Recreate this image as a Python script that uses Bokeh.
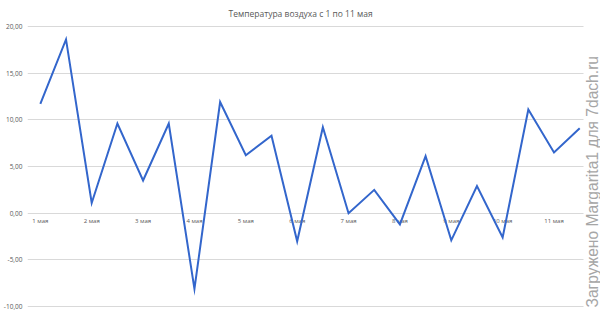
import math
from bokeh.plotting import figure
from bokeh.models import Range1d, FixedTicker, Label, BoxAnnotation, ColumnDataSource
from bokeh.core.properties import value
from bokeh.embed import file_html
from bokeh.resources import INLINE

# ---- data ----
temps = [11.7, 18.6, 1.1, 9.6, 3.5, 9.6, -8.1, 11.9, 6.2, 8.3, -3.0,
         9.2, 0.0, 2.5, -1.2, 6.1, -2.9, 2.9, -2.6, 11.1, 6.5, 9.1]
day_labels = ["1 мая", "2 мая", "3 мая", "4 мая", "5 мая", "6 мая",
              "7 мая", "8 мая", "9 мая", "10 мая", "11 мая"]
y_ticks = [-10, -5, 0, 5, 10, 15, 20]
y_tick_labels = ["-10,00", "-5,00", "0,00", "5,00", "10,00", "15,00", "20,00"]
title_text = "Температура воздуха с 1 по 11 мая"
watermark_text = "Загружено Margarita1 для 7dach.ru"

idx = list(range(len(temps)))
label_pos = [2 * i for i in range(len(day_labels))]

FONT = "Open Sans"
GREY = "#595959"

p = figure(width=600, height=315, output_backend="svg", toolbar_location=None,
           x_range=Range1d(-0.5, 21.81), y_range=Range1d(-10.3, 20.3),
           min_border_left=26, min_border_right=0, min_border_top=22,
           min_border_bottom=6)
p.outline_line_color = None
p.background_fill_color = "white"
p.border_fill_color = "white"

# title
p.title.text = title_text
p.title.align = "left"
p.title.offset = 201
p.title.text_font = FONT
p.title.text_font_size = "8.5px"
p.title.text_font_style = "normal"
p.title.text_color = GREY

# axes
p.xaxis.visible = False
ya = p.yaxis[0]
ya.ticker = FixedTicker(ticks=y_ticks)
ya.major_label_overrides = {t: l for t, l in zip(y_ticks, y_tick_labels)}
ya.axis_line_color = None
ya.major_tick_line_color = None
ya.minor_tick_line_color = None
ya.major_tick_out = 0
ya.major_tick_in = 0
ya.minor_tick_out = 0
ya.major_label_text_font = FONT
ya.major_label_text_font_size = "6.5px"
ya.major_label_text_color = GREY
ya.major_label_standoff = 5

p.xgrid.visible = False
p.ygrid.ticker = FixedTicker(ticks=y_ticks)
p.ygrid.grid_line_color = "#d9d9d9"
p.ygrid.grid_line_width = 1

# category labels along the zero line
lab_src = ColumnDataSource(dict(x=label_pos, y=[0] * len(label_pos), t=day_labels))
p.text(x="x", y="y", text="t", source=lab_src, text_font=value(FONT),
       text_font_size="6px", text_color=GREY, text_align="center",
       text_baseline="middle", y_offset=8)

# the series
p.line(idx, temps, line_color="#3366cc", line_width=2, line_join="miter")

# the picture was cropped at the right: blank strip (screen units relative to frame)
p.add_layout(BoxAnnotation(left=556, left_units="screen",
                           fill_color="white", fill_alpha=1, line_color=None))

# watermark (screen units relative to frame: left edge 26, bottom edge 309)
p.add_layout(Label(x=565, y=2, x_units="screen", y_units="screen",
                   text=watermark_text, angle=math.pi / 2,
                   text_font="Liberation Sans", text_font_size="15.6px",
                   text_color="#a6a6a6", text_align="left",
                   text_baseline="middle"))

open("out.html", "w").write(file_html(p, INLINE))
